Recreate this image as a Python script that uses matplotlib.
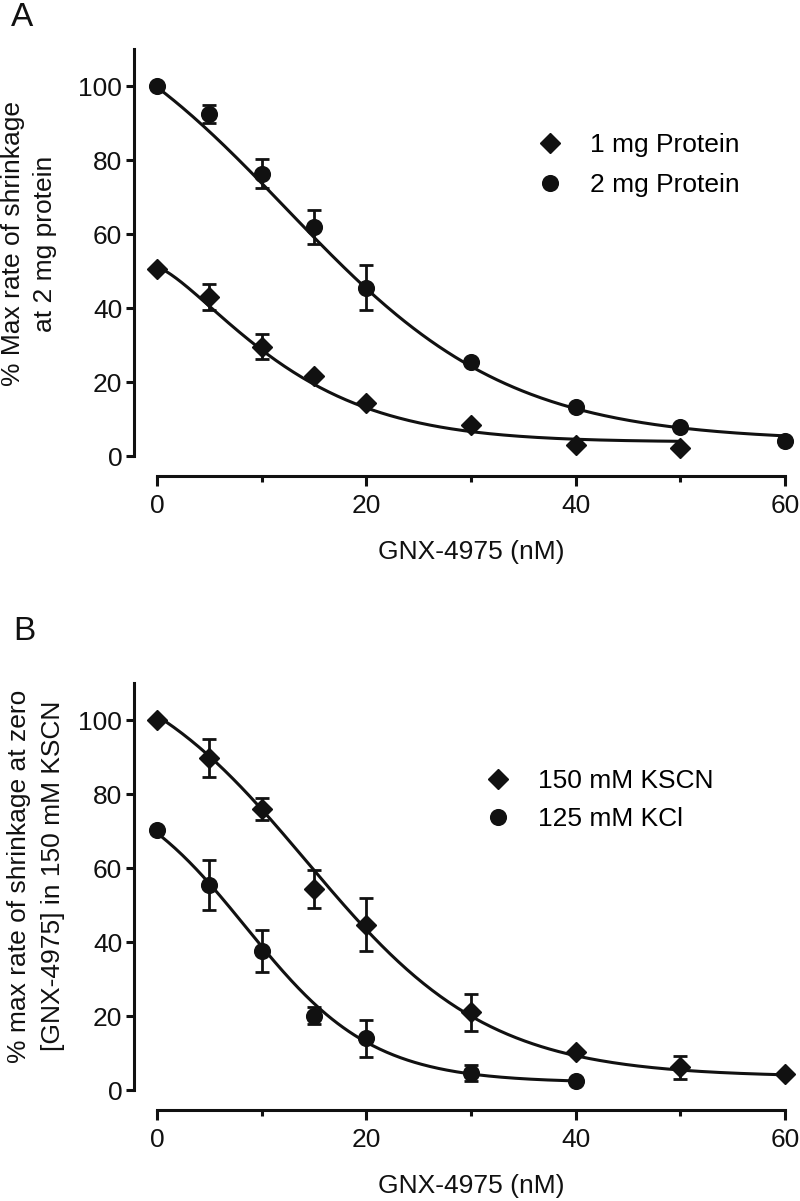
import numpy as np
import matplotlib
matplotlib.use("Agg")
import matplotlib.pyplot as plt
from matplotlib.lines import Line2D

plt.rcParams['font.family'] = ['Liberation Sans', 'DejaVu Sans']

# ---------------- data ----------------
# Panel A
conc_A_1mg = [0, 5, 10, 15, 20, 30, 40, 50]
rate_A_1mg = [50.5, 43.0, 29.5, 21.5, 14.2, 8.5, 3.0, 2.2]
err_A_1mg = [0, 3.5, 3.4, 0, 0, 0, 0, 0]

conc_A_2mg = [0, 5, 10, 15, 20, 30, 40, 50, 60]
rate_A_2mg = [100, 92.5, 76.3, 62.0, 45.5, 25.3, 13.3, 7.8, 4.0]
err_A_2mg = [0, 2.4, 4.0, 4.6, 6.1, 0, 0, 0, 0]

# Panel B
conc_B_kscn = [0, 5, 10, 15, 20, 30, 40, 50, 60]
rate_B_kscn = [100, 89.7, 75.9, 54.3, 44.7, 21.0, 10.4, 6.1, 4.3]
err_B_kscn = [0, 5.1, 2.9, 5.2, 7.1, 5.0, 0, 3.0, 0]

conc_B_kcl = [0, 5, 10, 15, 20, 30, 40]
rate_B_kcl = [70.2, 55.4, 37.6, 20.1, 14.0, 4.6, 2.4]
err_B_kcl = [0, 6.8, 5.6, 2.2, 5.0, 2.2, 0]

# fitted-curve parameters read to match the drawn fit lines
# ('weibull', top, bottom, scale, shape) or ('boltzmann', top, bottom, x50, slope)
fit_A_1mg = ('weibull', 51.0, 3.8, 13.9, 1.35)
fit_A_2mg = ('boltzmann', 130.0, 4.0, 12.3, 10.7)
fit_B_kscn = ('boltzmann', 120.0, 3.5, 14.3, 8.7)
fit_B_kcl = ('boltzmann', 86.0, 2.0, 8.5, 6.05)

labels_A = ['1 mg Protein', '2 mg Protein']
labels_B = ['150 mM KSCN', '125 mM KCl']
ylabel_A = '% Max rate of shrinkage\nat 2 mg protein'
ylabel_B = '% max rate of shrinkage at zero\n[GNX-4975] in 150 mM KSCN'
xlabel = 'GNX-4975 (nM)'
yticks = [0, 20, 40, 60, 80, 100]
xticks_major = [0, 20, 40, 60]
xticks_minor = [10, 30, 50]

# ---------------- style ----------------
INK = '#111111'
FS = 19
W, H = 800, 1201
fig = plt.figure(figsize=(W / 100, H / 100), dpi=100)


def fit_curve(x, p):
    kind, top, bottom, a, b = p
    if kind == 'weibull':
        return bottom + (top - bottom) * np.exp(-(x / a) ** b)
    return bottom + (top - bottom) / (1 + np.exp((x - a) / b))


def series(ax, x, y, err, fit, marker, ms):
    x = np.asarray(x, float)
    y = np.asarray(y, float)
    err = np.asarray(err, float)
    xx = np.linspace(0, x.max(), 300)
    ax.plot(xx, fit_curve(xx, fit), color=INK, lw=2.2, zorder=2, clip_on=False)
    m = err > 0
    ax.errorbar(x[m], y[m], yerr=err[m], fmt='none', ecolor=INK, elinewidth=2.0,
                capsize=5.2, capthick=2.0, zorder=3, clip_on=False)
    ax.plot(x, y, ls='none', marker=marker, ms=ms, color=INK, mec=INK, zorder=4,
            clip_on=False)


def style_axes(ax):
    ax.set_xlim(0, 60)
    ax.set_ylim(0, 110)
    for s in ['top', 'right']:
        ax.spines[s].set_visible(False)
    ax.spines['left'].set_position(('outward', 16.5))
    ax.spines['bottom'].set_position(('outward', 14.5))
    for s in ['left', 'bottom']:
        ax.spines[s].set_linewidth(2.2)
        ax.spines[s].set_color(INK)
    ax.set_yticks(yticks)
    ax.set_xticks(xticks_major)
    ax.set_xticks(xticks_minor, minor=True)
    ax.tick_params(axis='y', which='major', length=5.5, width=2.2, color=INK,
                   labelsize=FS, labelcolor=INK, pad=3)
    ax.tick_params(axis='x', which='major', length=7, width=2.2, color=INK,
                   labelsize=FS, labelcolor=INK, pad=6)
    ax.tick_params(axis='x', which='minor', length=4.5, width=2.2, color=INK)
    ax.set_xlabel(xlabel, fontsize=FS, color=INK, labelpad=16)
    ax.patch.set_visible(False)


D_MS = 10.2
O_MS = 11.3

# Panel A
axA = fig.add_axes([157 / W, 1 - 456 / H, 628 / W, 407 / H])
style_axes(axA)
series(axA, conc_A_1mg, rate_A_1mg, err_A_1mg, fit_A_1mg, 'D', D_MS)
series(axA, conc_A_2mg, rate_A_2mg, err_A_2mg, fit_A_2mg, 'o', O_MS)
hA = [Line2D([], [], ls='none', marker='D', ms=D_MS, color=INK),
      Line2D([], [], ls='none', marker='o', ms=O_MS, color=INK)]
fig.legend(hA, labels_A, loc='center left', bbox_to_anchor=(537 / W, 1 - 165 / H),
           bbox_transform=fig.transFigure, frameon=False, fontsize=FS,
           handlelength=1.0, handletextpad=1.0, labelspacing=0.6,
           borderpad=0, borderaxespad=0)
fig.text(29 / W, 1 - 244 / H, ylabel_A, rotation=90, ha='center', va='center',
         fontsize=FS, color=INK, linespacing=1.45, multialignment='center')
fig.text(11 / W, 1 - 26 / H, 'A', fontsize=24, color=INK, ha='left', va='baseline')

# Panel B
axB = fig.add_axes([157 / W, 1 - 1090 / H, 628 / W, 407 / H])
style_axes(axB)
series(axB, conc_B_kscn, rate_B_kscn, err_B_kscn, fit_B_kscn, 'D', D_MS)
series(axB, conc_B_kcl, rate_B_kcl, err_B_kcl, fit_B_kcl, 'o', O_MS)
hB = [Line2D([], [], ls='none', marker='D', ms=D_MS, color=INK),
      Line2D([], [], ls='none', marker='o', ms=O_MS, color=INK)]
fig.legend(hB, labels_B, loc='center left', bbox_to_anchor=(485 / W, 1 - 800 / H),
           bbox_transform=fig.transFigure, frameon=False, fontsize=FS,
           handlelength=1.0, handletextpad=1.0, labelspacing=0.55,
           borderpad=0, borderaxespad=0)
fig.text(36 / W, 1 - 876 / H, ylabel_B, rotation=90, ha='center', va='center',
         fontsize=FS, color=INK, linespacing=1.5, multialignment='center')
fig.text(13 / W, 1 - 640 / H, 'B', fontsize=24, color=INK, ha='left', va='baseline')

fig.savefig('out.png', dpi=100)
